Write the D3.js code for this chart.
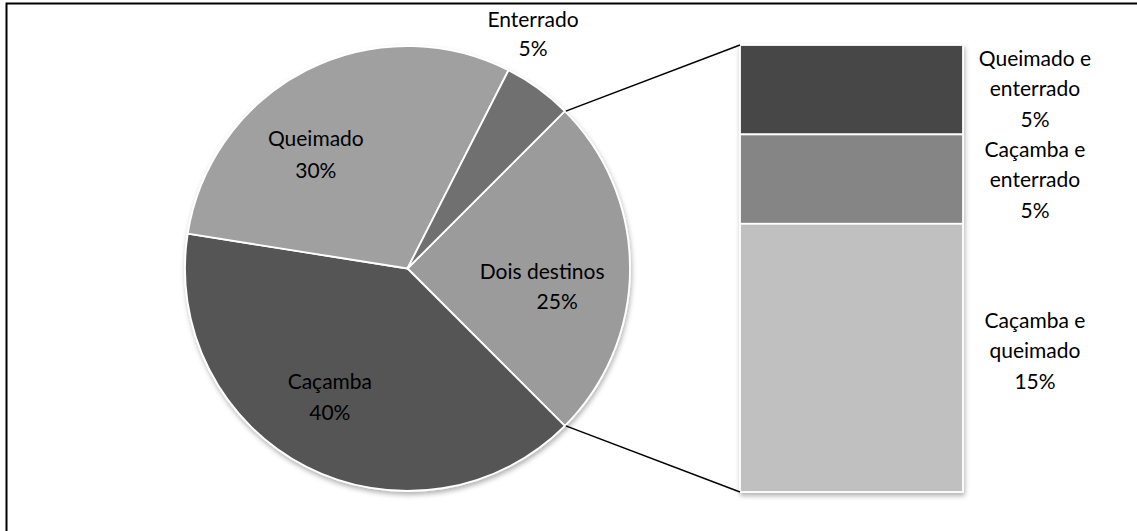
<!DOCTYPE html>
<html><head><meta charset="utf-8">
<script src="https://cdn.jsdelivr.net/npm/d3@7"></script>
<style>body{margin:0;background:#fff}svg{display:block}text{font-family:Lato,"Open Sans",sans-serif;font-size:21px;fill:#000}</style>
</head><body>
<svg id="c" width="1137" height="531"></svg>
<script>
// Data
const pieCategories = ["Dois destinos", "Caçamba", "Queimado", "Enterrado"];
const pieValues = [25, 40, 30, 5];
const pieColors = ["#9b9b9b", "#555555", "#a0a0a0", "#6f6f6f"];
const barCategories = ["Queimado e enterrado", "Caçamba e enterrado", "Caçamba e queimado"];
const barValues = [5, 5, 15];
const barColors = ["#474747", "#858585", "#c0c0c0"];
const barLabelLines = [["Queimado e", "enterrado", "5%"], ["Caçamba e", "enterrado", "5%"], ["Caçamba e", "queimado", "15%"]];

const svg = d3.select("#c");
const defs = svg.append("defs");
const f = defs.append("filter").attr("id","sh").attr("x","-10%").attr("y","-10%").attr("width","130%").attr("height","130%");
f.append("feDropShadow").attr("dx",1).attr("dy",3).attr("stdDeviation",2.5).attr("flood-color","#000").attr("flood-opacity",0.3);

// frame
svg.append("rect").attr("x",6.5).attr("y",3.5).attr("width",1200).attr("height",600)
  .attr("fill","none").attr("stroke","#000").attr("stroke-width",2);

const cx = 407.5, cy = 268.5, R = 222.5;
const pie = d3.pie().sort(null).value(d=>d).startAngle(Math.PI/4).endAngle(Math.PI/4 + 2*Math.PI);
const arcs = pie(pieValues);
const arc = d3.arc().innerRadius(0).outerRadius(R);
const g = svg.append("g").attr("transform",`translate(${cx},${cy})`);
g.append("g").attr("filter","url(#sh)").selectAll("path").data(arcs).join("path")
  .attr("d",arc).attr("fill",(d,i)=>pieColors[i]).attr("stroke","#fff").attr("stroke-width",1.8).attr("stroke-linejoin","round");

// bar of pie
const bx0 = 740, bx1 = 963;
const total = d3.sum(barValues);
const y = d3.scaleLinear().domain([0,total]).range([45,492]);
const stack = d3.cumsum(barValues);
const bars = barValues.map((v,i)=>({v, y0: i? stack[i-1]:0, y1: stack[i]}));
svg.append("g").attr("filter","url(#sh)").selectAll("rect").data(bars).join("rect")
  .attr("x",bx0).attr("width",bx1-bx0).attr("y",d=>y(d.y0)).attr("height",d=>y(d.y1)-y(d.y0))
  .attr("fill",(d,i)=>barColors[i]).attr("stroke","#fff").attr("stroke-width",1.8);

// connector lines from Dois destinos slice edges to bar
const dd = arcs[0];
const pt = a => [cx + R*Math.sin(a), cy - R*Math.cos(a)];
const p1 = pt(dd.startAngle), p2 = pt(dd.endAngle);
svg.append("line").attr("x1",p1[0]+1).attr("y1",p1[1]).attr("x2",bx0).attr("y2",y(0)).attr("stroke","#000").attr("stroke-width",1.5);
svg.append("line").attr("x1",p2[0]+1).attr("y1",p2[1]).attr("x2",bx0).attr("y2",y(total)).attr("stroke","#000").attr("stroke-width",1.5);

// pie labels
const labelArc = d3.arc().innerRadius(R*0.65).outerRadius(R*0.65);
const nudge = {"Dois destinos":[[-10,2],[5,32]], "Caçamba":[[-12,-17],[-12,14]], "Queimado":[[-26,-2],[-26,30]], "Enterrado":[[0,0],[0,29]]};
arcs.forEach((d,i)=>{
  const name = pieCategories[i];
  let c = labelArc.centroid(d);
  if (name === "Enterrado") { c = [533 - cx, 18 - cy]; }
  const lines = [name, pieValues[i] + "%"];
  lines.forEach((t,j)=>{
    g.append("text").attr("x",c[0]+nudge[name][j][0]).attr("y",c[1]+nudge[name][j][1])
      .attr("text-anchor","middle").attr("dominant-baseline","central").text(t);
  });
});

// bar labels
const labelCenters = [57, 148, 319];
bars.forEach((d,i)=>{
  barLabelLines[i].forEach((t,j)=>{
    svg.append("text").attr("x",1035).attr("y",labelCenters[i] + j*30.5)
      .attr("text-anchor","middle").attr("dominant-baseline","central").text(t);
  });
});
</script>
</body></html>
